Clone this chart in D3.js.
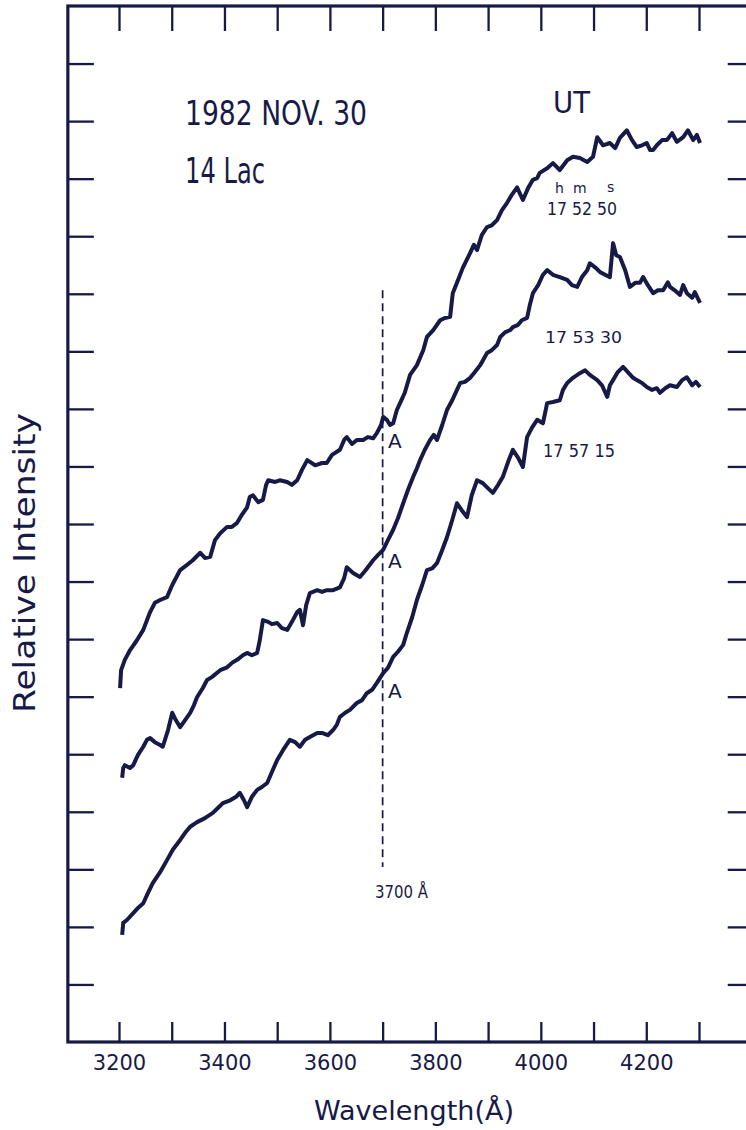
<!DOCTYPE html>
<html>
<head>
<meta charset="utf-8">
<script src="https://cdn.jsdelivr.net/npm/d3@7"></script>
<style>
  body { margin: 0; background: #fff; }
</style>
</head>
<body>
<div class="svg-container"></div>
<script>

/*** Data ***/

// ticks
const xTicks = [3200, 3300, 3400, 3500, 3600, 3700, 3800, 3900, 4000, 4100, 4200, 4300]
const xLabels = ["3200", "3400", "3600", "3800", "4000", "4200"]
const yTicks = [1, 2, 3, 4, 5, 6, 7, 8, 9, 10, 11, 12, 13, 14, 15, 16, 17]

// spectrum 17h52m50s (top)
const wave1 = [3202,3204,3211,3221,3234,3246,3259,3268,3278,3291,
    3301,3316,3329,3340,3354,3363,3373,3382,3392,3405,
    3414,3424,3433,3443,3448,3454,3464,3473,3479,3483,
    3496,3505,3519,3528,3538,3547,3557,3572,3585,3594,
    3604,3619,3627,3632,3642,3651,3663,3672,3682,3689,
    3697,3701,3708,3714,3720,3727,3733,3742,3752,3765,
    3777,3784,3796,3809,3818,3828,3833,3843,3852,3866,
    3873,3879,3888,3898,3907,3917,3926,3936,3945,3955,
    3966,3976,3985,3993,3998,4012,4023,4036,4050,4061,
    4074,4088,4099,4107,4118,4131,4141,4150,4163,4173,
    4182,4192,4201,4207,4213,4220,4230,4239,4249,4258,
    4270,4279,4289,4296,4302]
const flux1 = [6.15,6.46,6.64,6.81,6.98,7.16,7.47,7.63,7.68,7.73,
    7.94,8.20,8.29,8.37,8.50,8.41,8.43,8.72,8.84,8.95,
    8.95,9.02,9.16,9.29,9.47,9.50,9.38,9.42,9.68,9.76,
    9.73,9.76,9.73,9.68,9.76,9.94,10.11,10.02,10.06,10.06,
    10.20,10.29,10.46,10.51,10.39,10.46,10.46,10.51,10.49,10.58,
    10.72,10.86,10.81,10.72,10.75,10.98,11.10,11.28,11.59,11.76,
    12.02,12.25,12.37,12.54,12.58,12.60,13.01,13.24,13.45,13.71,
    13.85,13.76,14.02,14.16,14.19,14.28,14.45,14.58,14.72,14.85,
    14.63,14.84,14.98,15.01,15.10,15.18,15.27,15.15,15.32,15.38,
    15.36,15.29,15.38,15.72,15.58,15.62,15.53,15.71,15.84,15.67,
    15.55,15.58,15.62,15.50,15.50,15.58,15.67,15.67,15.79,15.64,
    15.72,15.84,15.67,15.76,15.62]

// spectrum 17h53m30s (middle)
const wave2 = [3206,3208,3211,3221,3227,3236,3246,3253,3259,3268,
    3278,3283,3293,3301,3308,3316,3325,3335,3342,3348,
    3359,3367,3376,3392,3405,3416,3424,3435,3443,3452,
    3462,3467,3473,3483,3490,3500,3509,3519,3528,3538,
    3543,3549,3555,3562,3576,3585,3594,3606,3619,3627,
    3632,3644,3657,3668,3682,3691,3701,3710,3720,3729,
    3739,3748,3758,3765,3771,3780,3790,3797,3803,3813,
    3822,3832,3841,3847,3856,3866,3875,3885,3898,3907,
    3917,3923,3932,3942,3947,3957,3964,3974,3979,3985,
    3995,4004,4012,4023,4036,4050,4059,4069,4078,4088,
    4093,4103,4112,4122,4131,4137,4143,4150,4160,4169,
    4179,4188,4194,4203,4213,4222,4232,4241,4245,4254,
    4264,4270,4277,4287,4292,4302]
const flux2 = [4.59,4.76,4.81,4.76,4.81,4.99,5.13,5.25,5.28,5.21,
    5.16,5.13,5.42,5.72,5.59,5.47,5.59,5.72,5.85,5.99,
    6.15,6.29,6.34,6.46,6.51,6.60,6.64,6.72,6.76,6.72,
    6.76,6.98,7.33,7.30,7.26,7.28,7.19,7.16,7.30,7.47,
    7.51,7.24,7.59,7.80,7.85,7.82,7.85,7.85,7.90,8.06,
    8.25,8.15,8.08,8.20,8.37,8.46,8.55,8.72,8.90,9.10,
    9.36,9.59,9.82,9.97,10.11,10.29,10.46,10.55,10.46,10.72,
    10.98,11.15,11.33,11.45,11.47,11.54,11.64,11.76,11.97,12.02,
    12.11,12.25,12.33,12.37,12.42,12.46,12.54,12.58,12.80,13.01,
    13.15,13.33,13.41,13.33,13.29,13.24,13.15,13.12,13.29,13.41,
    13.53,13.46,13.38,13.33,13.29,13.88,13.67,13.64,13.41,13.12,
    13.19,13.19,13.29,13.15,13.01,13.06,13.06,13.20,13.12,13.06,
    12.98,13.15,13.01,12.93,13.03,12.84]

// spectrum 17h57m15s (bottom)
const wave3 = [3206,3208,3215,3227,3236,3246,3255,3264,3278,3291,
    3302,3316,3325,3335,3348,3363,3378,3388,3397,3411,
    3422,3429,3437,3443,3452,3462,3471,3481,3490,3500,
    3511,3524,3534,3543,3553,3562,3576,3585,3596,3606,
    3613,3619,3629,3638,3651,3661,3670,3680,3689,3701,
    3710,3720,3729,3739,3746,3756,3765,3775,3784,3794,
    3803,3813,3822,3832,3841,3850,3860,3869,3879,3890,
    3900,3909,3919,3928,3938,3947,3957,3966,3974,3983,
    3993,4004,4012,4023,4036,4042,4050,4061,4074,4084,
    4093,4107,4116,4126,4131,4137,4146,4156,4165,4175,
    4182,4192,4201,4211,4220,4226,4236,4245,4258,4268,
    4277,4287,4294,4302]
const flux3 = [1.86,2.07,2.12,2.24,2.33,2.41,2.59,2.76,2.95,3.16,
    3.34,3.51,3.63,3.74,3.82,3.89,3.98,4.07,4.15,4.20,
    4.26,4.33,4.20,4.08,4.26,4.38,4.43,4.50,4.69,4.90,
    5.07,5.25,5.21,5.13,5.25,5.30,5.37,5.37,5.33,5.42,
    5.51,5.65,5.72,5.77,5.89,5.94,6.06,6.12,6.24,6.41,
    6.50,6.69,6.78,6.90,7.11,7.38,7.68,7.94,8.20,8.23,
    8.32,8.55,8.77,9.07,9.36,9.24,9.12,9.50,9.76,9.71,
    9.62,9.54,9.68,9.82,10.08,10.29,10.15,9.99,10.51,10.67,
    10.81,10.75,11.10,11.12,11.15,11.33,11.45,11.54,11.62,11.67,
    11.59,11.50,11.41,11.21,11.41,11.50,11.64,11.73,11.64,11.54,
    11.50,11.45,11.38,11.33,11.36,11.28,11.36,11.41,11.38,11.50,
    11.55,11.41,11.47,11.38]

// dashed marker at 3700 A
const markWave = 3700
const markRange = [3.04, 13.06]

/*** Setup ***/

const svgWidth = 746
const svgHeight = 1130
const ink = "#171a47"
const font = "'DejaVu Sans', 'Liberation Sans', sans-serif"

let svg = d3.select(".svg-container")
    .append("svg")
    .attr("width", svgWidth)
    .attr("height", svgHeight)
    .style("background-color", "white")

/* Scales */

let xScale = d3.scaleLinear()
    .domain([3200, 4300])
    .range([119, 699])

let yScale = d3.scaleLinear()
    .domain([0, 18])
    .range([1042, 6])

const xLeft = xScale(3103)
const xRight = xScale(4400)

/* Axes (ticks only, the frame is drawn as one rect) */

function styleAxis(g) {
    g.select(".domain").remove()
    g.selectAll("line")
        .attr("stroke", ink)
        .attr("stroke-width", 2.3)
    g.selectAll("text")
        .attr("fill", ink)
        .style("font-family", font)
        .style("font-size", "21px")
}

let bottomAxis = d3.axisBottom(xScale)
    .tickValues(xTicks)
    .tickSize(-20)
    .tickPadding(13)
    .tickFormat(d => xLabels.includes(String(d)) ? String(d) : "")

svg.append("g")
    .attr("transform", `translate(0, ${yScale(0)})`)
    .call(bottomAxis)
    .call(styleAxis)

let topAxis = d3.axisTop(xScale)
    .tickValues(xTicks)
    .tickSize(-25)
    .tickFormat("")

svg.append("g")
    .attr("transform", `translate(0, ${yScale(18)})`)
    .call(topAxis)
    .call(styleAxis)

let leftAxis = d3.axisLeft(yScale)
    .tickValues(yTicks)
    .tickSize(-26)
    .tickFormat("")

svg.append("g")
    .attr("transform", `translate(${xLeft}, 0)`)
    .call(leftAxis)
    .call(styleAxis)

let rightAxis = d3.axisRight(yScale)
    .tickValues(yTicks)
    .tickSize(-24)
    .tickFormat("")

svg.append("g")
    .attr("transform", `translate(${xRight}, 0)`)
    .call(rightAxis)
    .call(styleAxis)

svg.append("rect")
    .attr("x", xLeft)
    .attr("y", yScale(18))
    .attr("width", xRight - xLeft)
    .attr("height", yScale(0) - yScale(18))
    .attr("fill", "none")
    .attr("stroke", ink)
    .attr("stroke-width", 3.2)

/* Spectra */

let line = d3.line()
    .x(d => xScale(d[0]))
    .y(d => yScale(d[1]))

let spectra = [d3.zip(wave1, flux1), d3.zip(wave2, flux2), d3.zip(wave3, flux3)]

svg.append("g")
    .selectAll("path")
    .data(spectra)
    .enter()
    .append("path")
    .attr("d", line)
    .attr("fill", "none")
    .attr("stroke", ink)
    .attr("stroke-width", 4)
    .attr("stroke-linejoin", "round")

svg.append("line")
    .attr("x1", xScale(markWave))
    .attr("x2", xScale(markWave))
    .attr("y1", yScale(markRange[1]))
    .attr("y2", yScale(markRange[0]))
    .attr("stroke", ink)
    .attr("stroke-width", 1.7)
    .attr("stroke-dasharray", "8,5")

/* Lettering */

function label(txt, x, y, size, len) {
    let t = svg.append("text")
        .attr("x", x)
        .attr("y", y)
        .attr("fill", ink)
        .style("font-family", font)
        .style("font-size", size + "px")
        .text(txt)
    if (len) t.attr("textLength", len).attr("lengthAdjust", "spacingAndGlyphs")
    return t
}

label("1982 NOV. 30", 185, 125, 34, 182)
label("14 Lac", 185, 183, 35, 80)
label("UT", 553, 113, 31, 37)

// h m s sit just above the time digits
label("h", 555, 193, 14)
label("m", 573, 193, 14)
label("s", 607, 192, 14)
label("17 52 50", 547, 215, 17, 70)
label("17 53 30", 545, 343, 16, 77)
label("17 57 15", 543, 457, 17, 72)

label("A", 388, 448, 20)
label("A", 388, 568, 20)
label("A", 388, 698, 20)

label("3700 Å", 375, 898, 17, 53)

label("Wavelength(Å)", 414, 1120, 27, 200)
    .attr("text-anchor", "middle")

svg.append("text")
    .attr("transform", "translate(35, 563) rotate(-90)")
    .attr("text-anchor", "middle")
    .attr("fill", ink)
    .attr("textLength", 300)
    .attr("lengthAdjust", "spacingAndGlyphs")
    .style("font-family", font)
    .style("font-size", "30px")
    .text("Relative Intensity")

</script>
</body>
</html>
